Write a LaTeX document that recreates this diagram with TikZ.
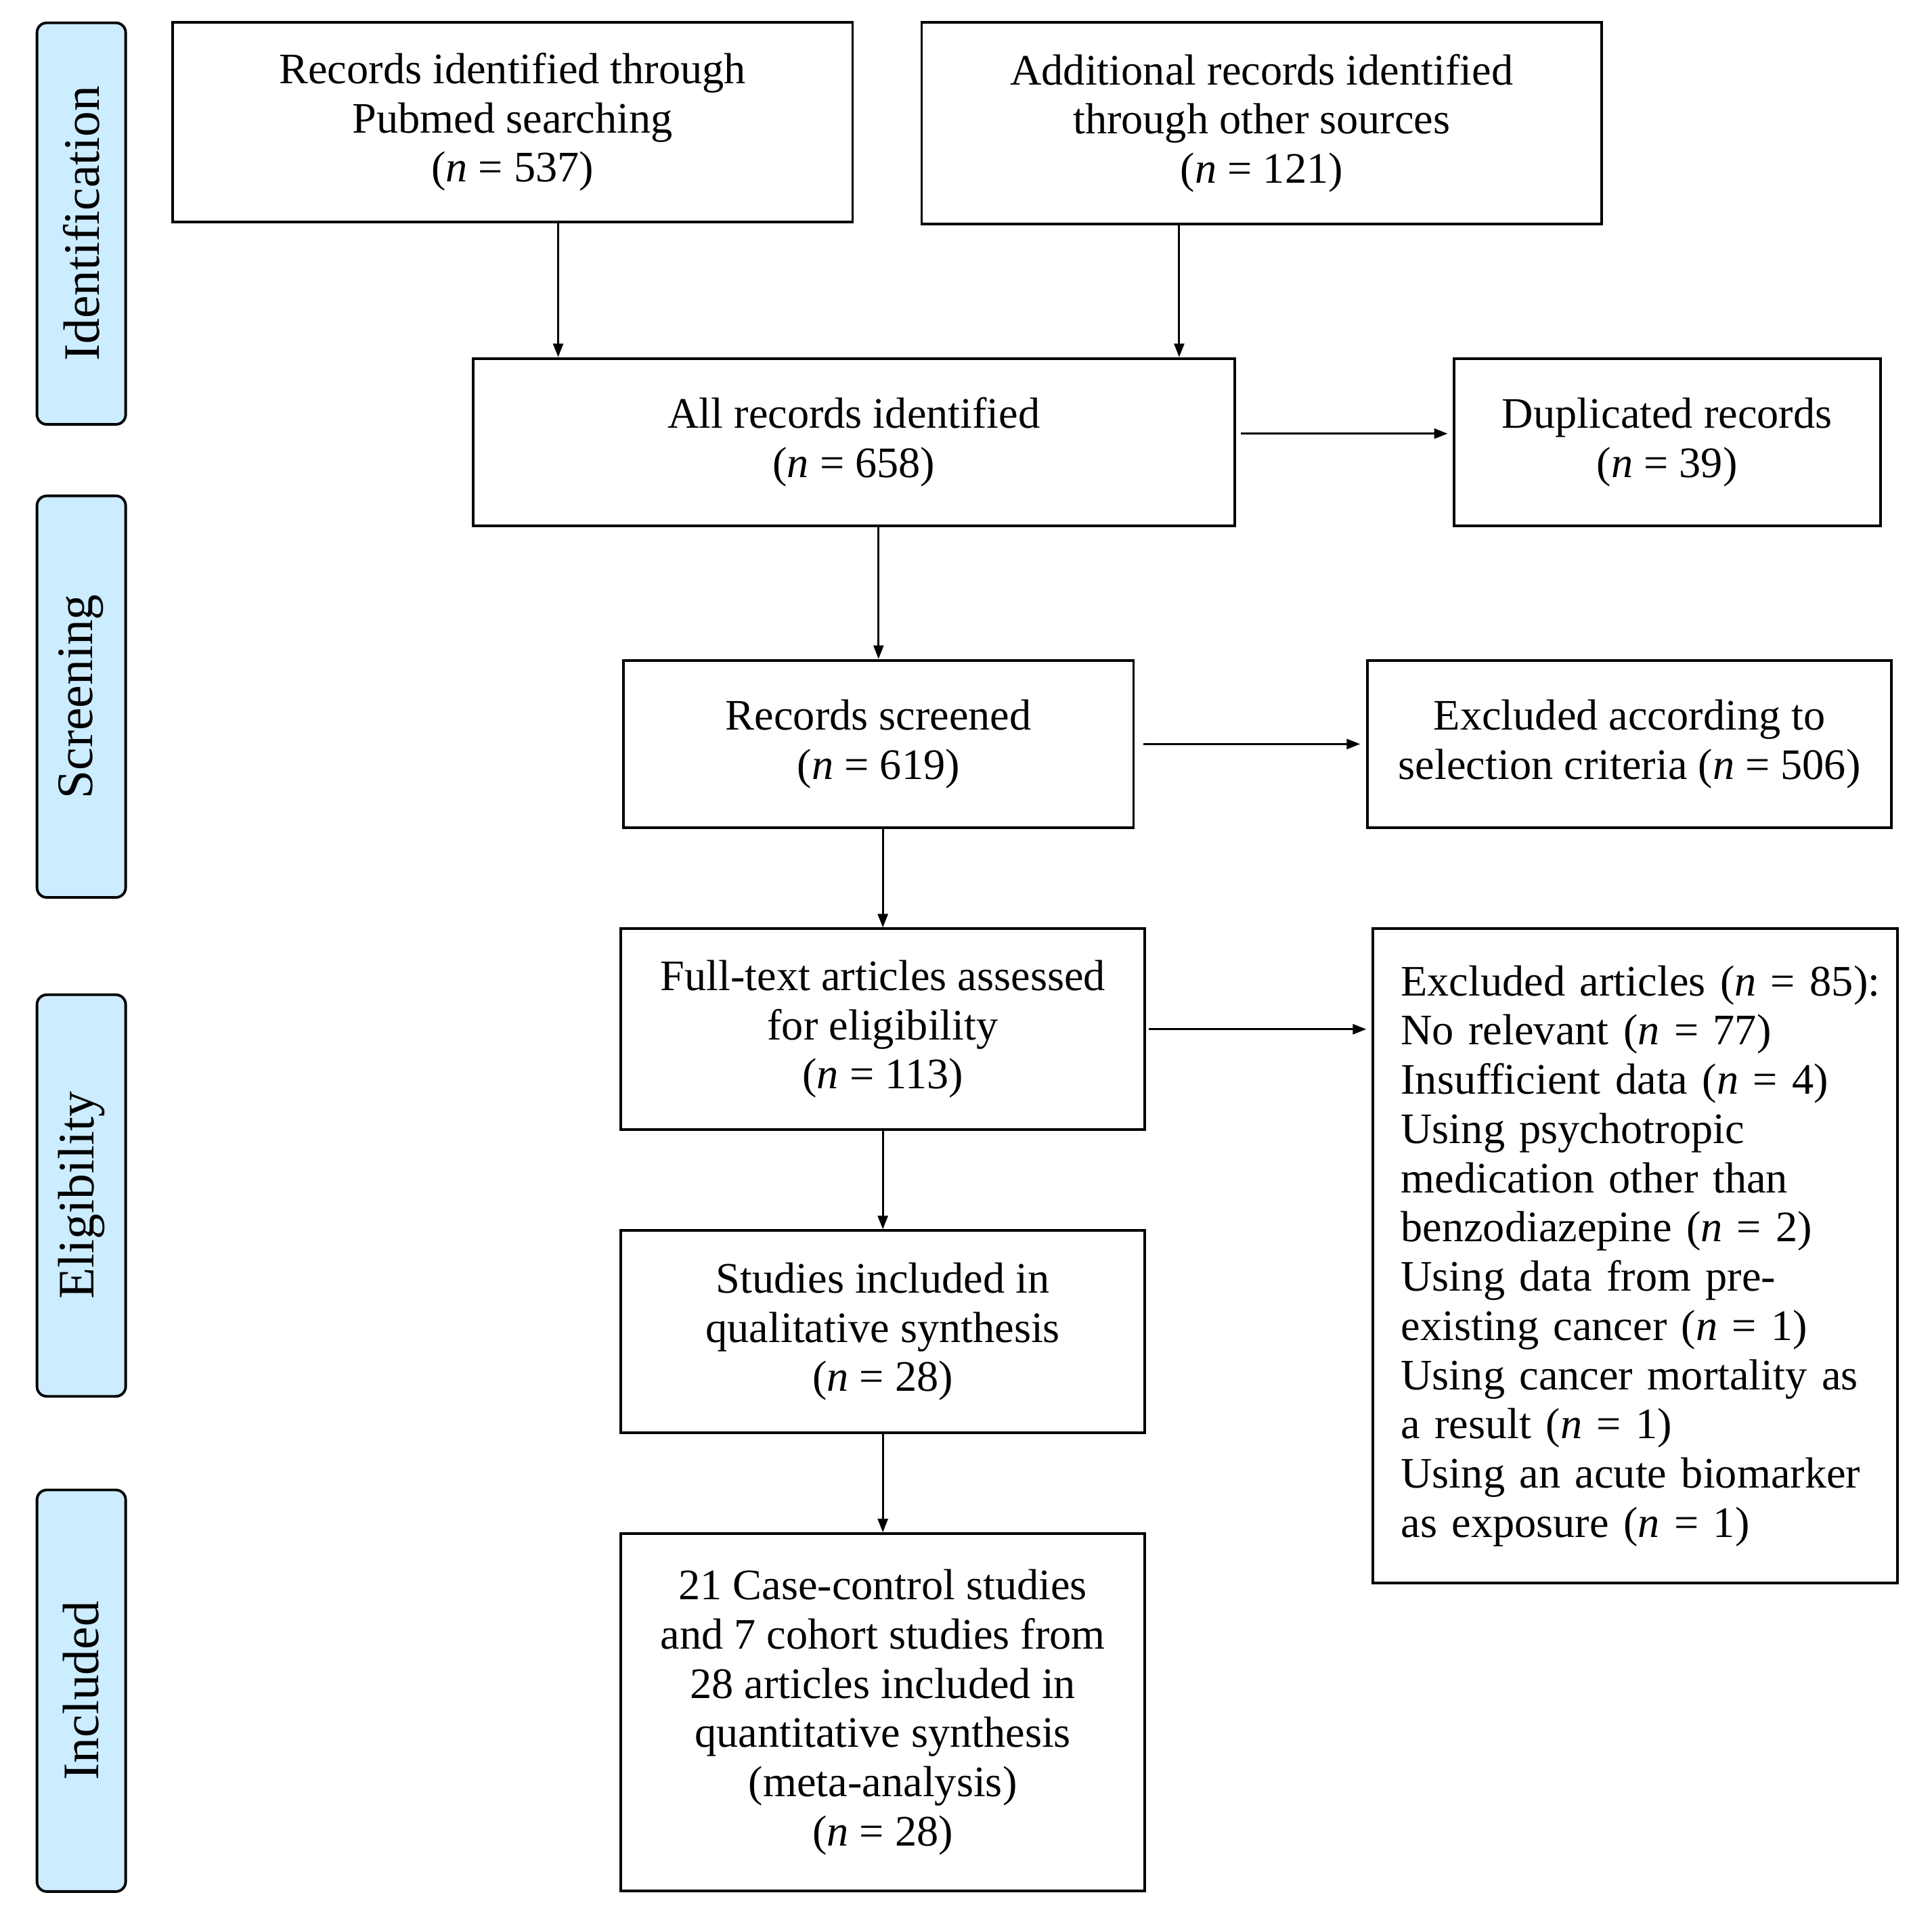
\documentclass[tikz,border=0pt]{standalone}
\usepackage{fontspec}
\setmainfont{Liberation Serif}
\usetikzlibrary{arrows.meta,positioning}
\definecolor{phaseblue}{RGB}{204,236,255}
\newdimen\px
\px=0.18202mm

\tikzset{
    box/.style={draw, line width=1.1pt, align=center, inner sep=0pt,
        font=\fontsize{18.3}{20.7}\selectfont},
    phase/.style={draw, line width=1.1pt, fill=phaseblue, rounded corners=8\px,
        rotate=90, minimum width=326\px, minimum height=72\px, inner sep=0pt,
        font=\fontsize{21.5}{24}\selectfont},
    arr/.style={line width=0.9pt, -{Triangle[length=5.7pt, width=4.2pt]}}
}

\begin{document}
\begin{tikzpicture}[x=1\px, y=-1\px]
            \useasboundingbox (0,0) rectangle (1568,1557);

            % Phasen am linken Rand
            \node[phase] (phId) at (66,181.5) {Identification};
            \node[phase] (phScr) at (66,565.5) {Screening};
            \node[phase] (phElig) at (66,970.5) {Eligibility};
            \node[phase] (phIncl) at (66,1372.5) {Included};

            % Identifikation
            \node[box, minimum width=552\px, minimum height=162\px] (recPub) at (416,99)
                {Records identified through\\Pubmed searching\\(\textit{n} = 537)};
            \node[box, minimum width=552\px, minimum height=164\px] (recOther) at (1024,100)
                {Additional records identified\\through other sources\\(\textit{n} = 121)};
            \node[box, minimum width=618\px, minimum height=136\px] (recAll) at (693,359)
                {All records identified\\(\textit{n} = 658)};
            \node[box, minimum width=346\px, minimum height=136\px] (recDup) at (1353,359)
                {Duplicated records\\(\textit{n} = 39)};

            % Screening
            \node[box, minimum width=414\px, minimum height=136\px] (recScr) at (713,604)
                {Records screened\\(\textit{n} = 619)};
            \node[box, minimum width=425\px, minimum height=136\px] (exclSel) at (1322.5,604)
                {Excluded according to\\selection criteria (\textit{n} = 506)};

            % Eignung
            \node[box, minimum width=425\px, minimum height=163\px] (fullText) at (716.5,835.5)
                {Full-text articles assessed\\for eligibility\\(\textit{n} = 113)};
            \node[box, minimum width=426\px, minimum height=531\px, text width=380\px,
                align=left] (exclArt) at (1327,1019.5)
                {\mbox{Excluded articles (\textit{n} = 85):}\\
                 No relevant (\textit{n} = 77)\\
                 Insufficient data (\textit{n} = 4)\\
                 Using psychotropic\\
                 medication other than\\
                 benzodiazepine (\textit{n} = 2)\\
                 Using data from pre-\\
                 existing cancer (\textit{n} = 1)\\
                 \mbox{Using cancer mortality as}\\
                 a result (\textit{n} = 1)\\
                 \mbox{Using an acute biomarker}\\
                 as exposure (\textit{n} = 1)};
            \node[box, minimum width=425\px, minimum height=164\px] (qualSyn) at (716.5,1081)
                {Studies included in\\qualitative synthesis\\(\textit{n} = 28)};

            % Eingeschlossen
            \node[box, minimum width=425\px, minimum height=290\px] (quantSyn) at (716.5,1390)
                {21 Case-control studies\\and 7 cohort studies from\\28 articles included in\\quantitative synthesis\\(meta-analysis)\\(\textit{n} = 28)};

            % Hilfskoordinaten für die Pfeile
            \coordinate (xPub) at (453,0);
            \coordinate (xOther) at (957,0);
            \coordinate (yDup) at (0,352);

            % Pfeile
            \draw[arr] (recPub.south -| xPub) -- (recAll.north -| xPub);
            \draw[arr] (recOther.south -| xOther) -- (recAll.north -| xOther);
            \draw[arr, shorten <=4\px, shorten >=4\px] (recAll.east |- yDup) -- (recDup.west |- yDup);
            \draw[arr] (recAll.south -| recScr.north) -- (recScr.north);
            \draw[arr, shorten <=7\px, shorten >=5\px] (recScr.east) -- (exclSel.west);
            \draw[arr] (recScr.south -| fullText.north) -- (fullText.north);
            \draw[arr, shorten <=2\px, shorten >=4\px] (fullText.east) -- (exclArt.west |- fullText.east);
            \draw[arr] (fullText.south) -- (qualSyn.north);
            \draw[arr] (qualSyn.south) -- (quantSyn.north);
\end{tikzpicture}
\end{document}
